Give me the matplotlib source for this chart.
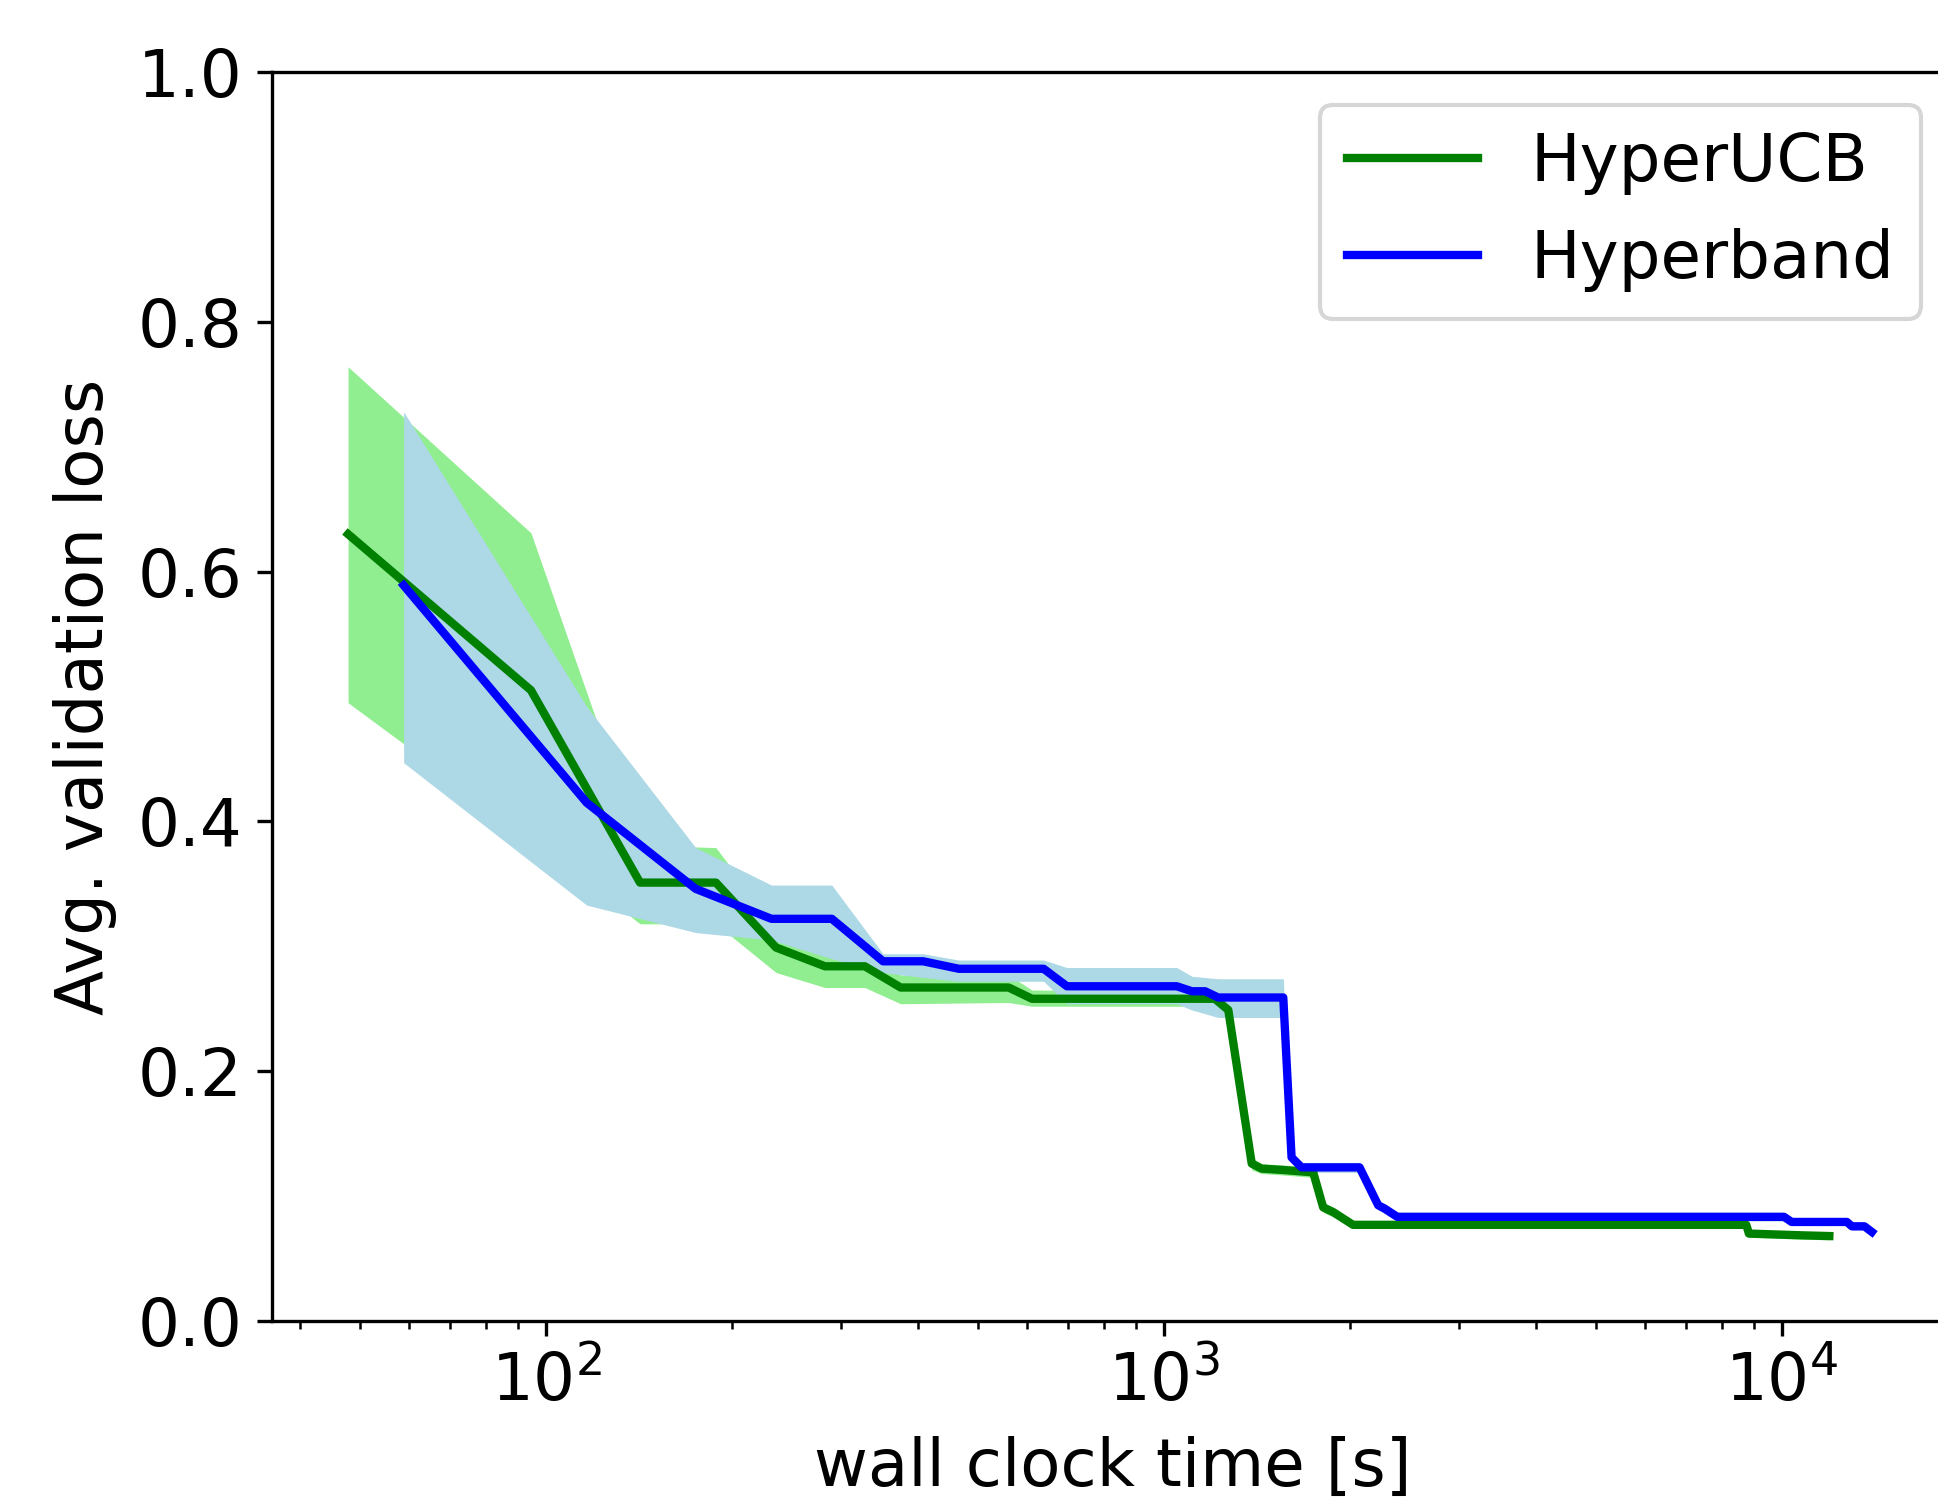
import matplotlib
matplotlib.use("Agg")
import matplotlib.pyplot as plt

# HyperUCB
ucb_t = [47.8, 94.5, 141.9, 188.3, 235.6, 282.7, 328, 374.8, 560.6, 611.5, 1209, 1271,
         1387, 1439, 1550, 1744, 1810, 1882, 2023, 8761, 8847, 10765, 11940]
ucb_mean = [.630, .505, .351, .351, .299, .284, .284, .267, .267, .258, .258, .249,
            .126, .122, .121, .119, .091, .087, .077, .077, .070, .0686, .068]
ucb_hi = [.764, .631, .381, .379, .315, .300, .300, .277, .277, .265, .264, .255,
          .131, .126, .125, .123, .095, .091, .080, .080, .073, .0715, .071]
ucb_lo = [.495, .387, .318, .318, .279, .267, .267, .254, .255, .252, .252, .243,
          .121, .118, .117, .115, .087, .083, .074, .074, .067, .0655, .065]

# Hyperband
hb_t = [58.8, 116.3, 174.6, 231.6, 290, 351, 407.6, 465.6, 638.6, 696.5, 1049, 1110,
        1166, 1224, 1560, 1609, 1670, 2073, 2222, 2276, 2386, 10084, 10375, 12745,
        12986, 13608, 13990]
hb_mean = [.589, .415, .346, .322, .322, .288, .288, .282, .282, .268, .268, .264,
           .264, .259, .259, .131, .123, .123, .0927, .090, .0834, .0834, .0793, .0793,
           .0758, .0758, .0713]
hb_hi = [.728, .492, .379, .349, .349, .294, .294, .289, .289, .283, .283, .276,
         .275, .274, .274, .135, .127, .127, .096, .094, .087, .087, .082, .082,
         .079, .079, .074]
hb_lo = [.447, .333, .311, .305, .290, .279, .275, .272, .272, .254, .254, .249,
         .246, .243, .243, .127, .119, .119, .089, .086, .080, .080, .0765, .0765,
         .073, .073, .068]

plt.rcParams['font.size'] = 15.8
fig = plt.figure(figsize=(1939/300, 1502/300), dpi=300)
ax = fig.add_axes([272/1939, 181/1502, 1682/1939, 1249/1502])

ax.fill_between(ucb_t, ucb_lo, ucb_hi, color='lightgreen', linewidth=0)
ax.fill_between(hb_t, hb_lo, hb_hi, color='lightblue', linewidth=0)
ax.plot(ucb_t, ucb_mean, color='green', lw=2, label='HyperUCB')
ax.plot(hb_t, hb_mean, color='blue', lw=2, label='Hyperband')

ax.set_xscale('log')
ax.set_xlim(36, 19000)
ax.set_ylim(0, 1.0)
ax.set_xlabel('wall clock time [s]', labelpad=5)
ax.set_ylabel('Avg. validation loss', labelpad=5)
ax.legend(loc='upper right')

fig.savefig('out.png', dpi=300)
